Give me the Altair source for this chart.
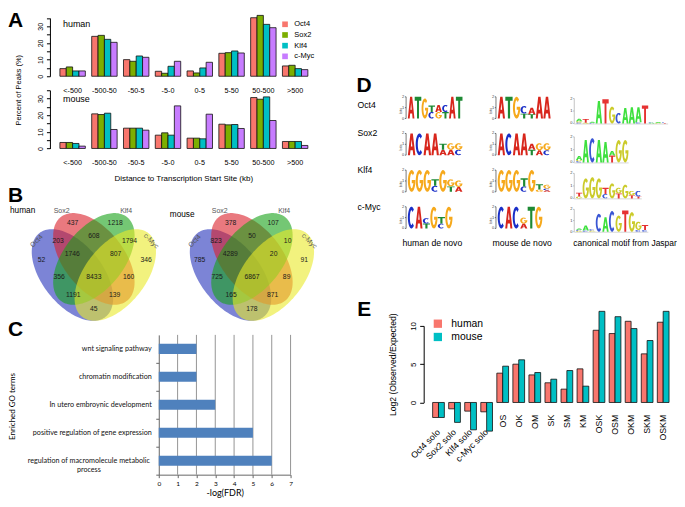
import altair as alt
import numpy as np
import pandas as pd

# ============================ DATA ============================
DIST_BINS = ["<-500", "-500-50", "-50-5", "-5-0", "0-5", "5-50", "50-500", ">500"]
FACTORS = ["Oct4", "Sox2", "Klf4", "c-Myc"]

HUMAN_OCT4 = [4.6, 24.0, 10.0, 3.0, 3.2, 13.8, 35.2, 6.2]
HUMAN_SOX2 = [5.6, 24.6, 9.0, 1.8, 2.0, 14.2, 36.6, 6.6]
HUMAN_KLF4 = [3.2, 22.2, 12.2, 6.0, 5.0, 15.2, 31.2, 4.6]
HUMAN_CMYC = [3.2, 20.4, 11.4, 9.0, 8.4, 14.0, 29.2, 4.0]
MOUSE_OCT4 = [3.6, 20.8, 12.2, 8.0, 6.2, 14.6, 30.6, 4.2]
MOUSE_SOX2 = [3.6, 20.4, 12.2, 9.4, 6.2, 14.2, 29.6, 4.2]
MOUSE_KLF4 = [3.0, 21.2, 12.2, 8.0, 5.8, 14.4, 31.0, 4.2]
MOUSE_CMYC = [1.4, 11.4, 11.0, 25.6, 20.6, 12.0, 16.8, 1.8]

VENN_REGIONS = ["O", "OS", "S", "SK", "K", "KM", "M", "OSK", "SKM", "OK", "OSKM", "SM", "OKM", "OSM", "OM"]
HUMAN_VENN = [52, 203, 437, 608, 1218, 1794, 346, 1746, 807, 356, 8433, 160, 1191, 139, 45]
MOUSE_VENN = [785, 823, 378, 50, 107, 10, 91, 4289, 20, 725, 6867, 89, 165, 871, 178]

GO_TERMS = ["wnt signaling pathway", "chromatin modification", "In utero embroynic development",
            "positive regulation of gene expression", "regulation of macromolecule metabolic\nprocess"]
GO_LOGFDR = [2, 2, 3, 5, 6]
GO_TICKS = [0, 1, 2, 3, 4, 5, 6, 7]

# motif columns, stacks bottom->top, letter + information (bits)
HUMAN_MOTIFS = ["A2 T2 G1.85 C.6/T.6 G.6/A.65 T.6/C.65 A2 T2",
                "A2 C2 A2 A2 A.5/T.55 A.5/G.6 C.5/G.6",
                "G2 G2 G2 C.55/T.6 G2 T.5/G.65 A.45/G.6",
                "C2 A2 T.45/C.5 G2 C.45/T.6 G2"]
MOUSE_MOTIFS = ["A2 T2 G2 T.45/C.7 T.4/A.6 A2 A2",
                "A2 C2 A2 A2 T.5/A.55 A.45/G.65 C.45/G.65",
                "G2 G2 G2 C.5/T.75 G2 G.2/T.5 A.15/C.15/G.35",
                "C2 A2 C2 A.45/G.55 T2 G2"]
JASPAR_MOTIFS = ["C.08/G.1/A.2 G.06/T.3 C.05/A.08 A1.8 T1.95 G1.35 C.85 A1.25 A1.3 C.1/A1.2 T1.45 A.05/C.05 G.05/A.06 T.04/C.04",
                 "C.1/G.1/A.3 A1.75 C1.9 A1.75 A1.6 T.55/A.35 G1.75 G1.75",
                 "G.15/T.3 G1.6 G1.7 G1.6 C.35/T.5 G1.2 T.4/G.45 G1.1 T.25/G.35 T.15/C.45",
                 "G.08/C.1/A.1 C.1/A.45 G.1/C.12 C1.6 A1.3 C1.85 G1.45 T1.9 G1.75 C.15/G.75 C.15/T.45"]

COMBOS = ["Oct4 solo", "Sox2 solo", "Klf4 solo", "c-Myc solo", "OS", "OK", "OM", "SK", "SM", "KM",
          "OSK", "OSM", "OKM", "SKM", "OSKM"]
COMBO_HUMAN = [-1.96, -0.83, -1.13, -1.22, 3.83, 5.0, 3.6, 2.57, 1.74, 4.39, 9.43, 9.0, 10.6, 6.35, 10.48]
COMBO_MOUSE = [-1.96, -2.6, -3.57, -3.74, 4.74, 5.57, 3.91, 3.04, 4.17, 2.13, 11.9, 11.2, 9.65, 8.09, 11.9]

SPECIES = ["human", "mouse"]

# ============================ LAYOUT / STYLE ============================
PAGE_W, PAGE_H, MARGIN = 685, 507, 8
W, H = PAGE_W - 2 * MARGIN, PAGE_H - 2 * MARGIN
FONT = "Liberation Sans"
CFONT = "Lato"
FACTOR_COLORS = ["#F8766D", "#7CAE00", "#00BFC4", "#C77CFF"]
SPECIES_COLORS = ["#F8766D", "#00BFC4"]
VENN_FILLS = ["#2532BB", "#DA202A", "#17A217", "#E9E928"]
DENOVO_PAL = {"A": "#D8261C", "C": "#1A2FC8", "G": "#F6A91C", "T": "#1E8A34"}
JASPAR_PAL = {"A": "#3EE03E", "C": "#3A56D4", "G": "#CBCB2A", "T": "#E63232"}
ONE = pd.DataFrame({"k": [0]})


def P(v):
    """reference-figure pixel -> plot pixel"""
    return v - MARGIN


def text_chart(text, x, y, size, **kw):
    return alt.Chart(ONE).mark_text(text=text, font=kw.pop("font", FONT), fontSize=size, **kw).encode(
        x=alt.value(P(x)), y=alt.value(P(y)))


# ---------------- Panel A ----------------
A_X_RANGE = [P(56.8), P(311.5)]


def dist_layer(series, zero_y, top_y, legend):
    df = pd.DataFrame([{"bin": b, "factor": f, "pct": v}
                       for f, vals in zip(FACTORS, series) for b, v in zip(DIST_BINS, vals)])
    xs = alt.Scale(domain=DIST_BINS, range=A_X_RANGE, paddingInner=0.2, paddingOuter=0.1)
    ys = alt.Scale(domain=[0, 35], range=[P(zero_y), P(top_y)], nice=False, zero=False)
    cs = alt.Scale(domain=FACTORS, range=FACTOR_COLORS)
    if legend:
        color = alt.Color("factor:N", scale=cs, sort=FACTORS, legend=alt.Legend(
            orient="none", legendX=P(281.7), legendY=P(20.2), title=None, symbolType="square",
            symbolSize=32, symbolStrokeWidth=0, labelFont=FONT, labelFontSize=7.5, labelOffset=5.5,
            rowPadding=1.7, padding=0, labelColor="black"))
    else:
        color = alt.Color("factor:N", scale=cs, sort=FACTORS, legend=None)
    return alt.Chart(df).mark_bar(stroke="#111", strokeWidth=0.8).encode(
        x=alt.X("bin:N", sort=DIST_BINS, scale=xs,
                axis=alt.Axis(orient="bottom", offset=P(zero_y) - H, domain=False, ticks=False, tickSize=0,
                              labelPadding=10.5, labelAngle=0, labelFontSize=7.2, title=None)),
        xOffset=alt.XOffset("factor:N", sort=FACTORS,
                            scale=alt.Scale(domain=FACTORS, paddingInner=0, paddingOuter=0)),
        y=alt.Y("pct:Q", scale=ys,
                axis=alt.Axis(orient="left", offset=-P(50), values=list(range(0, 36, 5)),
                              labelExpr="datum.value % 10 == 0 ? datum.label : ''", tickSize=3.5,
                              labelAngle=270, labelAlign="center", labelBaseline="bottom",
                              labelPadding=2.5, labelFontSize=7, title=None)),
        y2=alt.datum(0),
        color=color,
    )


panel_a = alt.layer(
    dist_layer([HUMAN_OCT4, HUMAN_SOX2, HUMAN_KLF4, HUMAN_CMYC], 76, 17.7, True),
    dist_layer([MOUSE_OCT4, MOUSE_SOX2, MOUSE_KLF4, MOUSE_CMYC], 148.3, 90, False),
    text_chart("human", 63, 26.7, 9, align="left", baseline="alphabetic"),
    text_chart("mouse", 63, 101.5, 9, align="left", baseline="alphabetic"),
    text_chart("Percent of Peaks (%)", 19.5, 90, 7.5, angle=270, align="center", baseline="middle"),
    text_chart("Distance to Transcription Start Site (kb)", 184, 179, 8, align="center", baseline="middle"),
).resolve_scale(x="independent", y="independent", color="independent", xOffset="independent")

# ---------------- Panel B (Venn) ----------------
ELL_A, ELL_B = 0.35, 0.20
VENN_ELLIPSES = [(0.35, 0.47, 135), (0.50, 0.57, 135), (0.50, 0.57, 45), (0.65, 0.47, 45)]
VENN_LABEL_POS = [(0.134, 0.565), (0.25, 0.683), (0.351, 0.793), (0.5, 0.71), (0.649, 0.793),
                  (0.75, 0.683), (0.866, 0.565), (0.348, 0.60), (0.652, 0.60), (0.257, 0.457),
                  (0.5, 0.457), (0.743, 0.457), (0.355, 0.344), (0.645, 0.344), (0.5, 0.26)]
VENN_SETNAME_POS = [(0.099, 0.681, 315), (0.274, 0.866, 0), (0.726, 0.866, 0), (0.901, 0.681, 45)]
VENN_DX = 158.3 / 143.0


def ellipse_band(cx, cy, deg, n=72):
    th = np.radians(deg)
    c, s = np.cos(th), np.sin(th)
    A = c * c / ELL_A ** 2 + s * s / ELL_B ** 2
    B = 2 * s * c * (1 / ELL_A ** 2 - 1 / ELL_B ** 2)
    C = s * s / ELL_A ** 2 + c * c / ELL_B ** 2
    ex = np.sqrt(ELL_A ** 2 * c * c + ELL_B ** 2 * s * s)
    dx = ex * np.cos(np.linspace(np.pi, 0, n))
    disc = np.clip(B * B * dx * dx - 4 * C * (A * dx * dx - 1), 0, None)
    lo = (-B * dx - np.sqrt(disc)) / (2 * C)
    hi = (-B * dx + np.sqrt(disc)) / (2 * C)
    return cx + dx, cy + lo, cy + hi


ell_rows, cnt_rows, name_rows = [], [], []
for si, (sp, counts) in enumerate(zip(SPECIES, [HUMAN_VENN, MOUSE_VENN])):
    off = si * VENN_DX
    for fi, (f, (cx, cy, deg)) in enumerate(zip(FACTORS, VENN_ELLIPSES)):
        xs_, lo_, hi_ = ellipse_band(cx + off, cy, deg)
        for x_, l_, h_ in zip(xs_, lo_, hi_):
            ell_rows.append({"key": f"{si}{fi}", "set": f, "x": x_, "lo": l_, "hi": h_})
    for reg, cnt, (ux, uy) in zip(VENN_REGIONS, counts, VENN_LABEL_POS):
        cnt_rows.append({"x": ux + off, "y": uy, "t": str(cnt)})
    for f, (ux, uy, ang) in zip(FACTORS, VENN_SETNAME_POS):
        name_rows.append({"x": ux + off, "y": uy, "t": f, "ang": ang})

VX = alt.Scale(domain=[0, 1], range=[P(22.5), P(165.5)], nice=False, zero=False)
VY = alt.Scale(domain=[0, 1], range=[P(350.7), P(189.7)], nice=False, zero=False)

venn_areas = alt.Chart(pd.DataFrame(ell_rows)).mark_area(opacity=0.6).encode(
    x=alt.X("x:Q", scale=VX, axis=None),
    y=alt.Y("lo:Q", scale=VY, axis=None, stack=None),
    y2="hi:Q",
    color=alt.Color("set:N", scale=alt.Scale(domain=FACTORS, range=VENN_FILLS), legend=None),
    detail="key:N",
)
venn_counts = alt.Chart(pd.DataFrame(cnt_rows)).mark_text(fontSize=6.8, color="#1a1a1a").encode(
    x=alt.X("x:Q", scale=VX, axis=None), y=alt.Y("y:Q", scale=VY, axis=None), text="t:N")
venn_names = alt.Chart(pd.DataFrame(name_rows)).mark_text(fontSize=7, color="#555555").encode(
    x=alt.X("x:Q", scale=VX, axis=None), y=alt.Y("y:Q", scale=VY, axis=None), text="t:N",
    angle=alt.Angle("ang:Q", scale=None))
panel_b = alt.layer(venn_areas, venn_counts, venn_names)

# ---------------- Panel C ----------------
# (other C layers keep default axes so that they merge with the bars' explicit axes)
c_df = pd.DataFrame({"term": GO_TERMS, "fdr": GO_LOGFDR, "idx": list(range(len(GO_TERMS)))})
CX = alt.Scale(domain=[0, 7], range=[P(159), P(291)], nice=False, zero=False)
CY = alt.Scale(domain=[0, 5], range=[P(335), P(475)], nice=False, zero=False)
C_XAXIS = alt.Axis(orient="bottom", offset=P(475) - H, values=GO_TICKS, tickSize=3,
                   labelFontSize=6.5, labelPadding=2.5, labelFlush=False, title="-log(FDR)",
                   titleFontSize=9, titlePadding=2, domainColor="#666", tickColor="#666",
                   labelFont=CFONT, titleFont=CFONT, grid=False)
C_YAXIS = alt.Axis(orient="left", offset=-P(159), values=[1, 2, 3, 4, 5], labels=False,
                   tickSize=3, domainColor="#666", tickColor="#666", title=None, grid=False)
c_grid = alt.Chart(pd.DataFrame({"v": GO_TICKS[1:]})).transform_calculate(
    top="0", bot="5").mark_rule(color="#7a7a7a", strokeWidth=0.8).encode(
    x=alt.X("v:Q", scale=CX, axis=C_XAXIS),
    y=alt.Y("top:Q", scale=CY, axis=C_YAXIS),
    y2="bot:Q")
c_bars = alt.Chart(c_df).transform_calculate(
    lo="datum.idx + 0.32", hi="datum.idx + 0.68", base="0").mark_rect(color="#4F81BD").encode(
    x=alt.X("fdr:Q", scale=CX, axis=C_XAXIS),
    x2="base:Q",
    y=alt.Y("lo:Q", scale=CY, axis=C_YAXIS),
    y2="hi:Q",
)
c_lab1 = alt.Chart(c_df[c_df.idx < 4]).transform_calculate(mid="datum.idx + 0.5", base="0").mark_text(
    align="right", baseline="middle", font=CFONT, fontSize=7.2, dx=-7, color="#111").encode(
    x=alt.X("base:Q", scale=CX, axis=C_XAXIS), y=alt.Y("mid:Q", scale=CY, axis=C_YAXIS), text="term:N")
c_lab2 = alt.Chart(c_df[c_df.idx == 4]).transform_calculate(mid="datum.idx + 0.5", base="0").mark_text(
    align="center", baseline="middle", font=CFONT, fontSize=7.2, dx=-70, lineBreak="\n", lineHeight=9,
    color="#111").encode(
    x=alt.X("base:Q", scale=CX, axis=C_XAXIS), y=alt.Y("mid:Q", scale=CY, axis=C_YAXIS), text="term:N")
panel_c = alt.layer(c_grid, c_bars, c_lab1, c_lab2)

# ---------------- Panel D (sequence logos) ----------------
GLYPH_T = [[(0, 0), (1, 0), (1, 0.18), (0.65, 0.18), (0.65, 1), (0.35, 1), (0.35, 0.18), (0, 0.18)]]
GLYPH_A = [[(0, 1), (0.34, 0), (0.66, 0), (1, 1), (0.72, 1), (0.65, 0.77), (0.35, 0.77), (0.28, 1)],
           [(0.40, 0.6), (0.60, 0.6), (0.5, 0.27)]]


def arc(rx, ry, a0, a1, n):
    t = np.radians(np.linspace(a0, a1, n))
    return [(0.5 + rx * np.cos(v), 0.5 - ry * np.sin(v)) for v in t]


GLYPH_C = [arc(0.5, 0.5, 48, 312, 30) + arc(0.22, 0.34, 312, 48, 30)]
GLYPH_G = [arc(0.5, 0.5, 48, 360, 30) + [(1.0, 0.46), (0.52, 0.46), (0.52, 0.6), (0.74, 0.6)]
           + arc(0.22, 0.34, 325, 48, 28)]
GLYPHS = {"A": GLYPH_A, "C": GLYPH_C, "G": GLYPH_G, "T": GLYPH_T}


def glyph_path(letter, w, h):
    parts = []
    for poly in GLYPHS[letter]:
        pts = [((u - 0.5) * w, (v - 0.5) * h) for u, v in poly]
        parts.append("M" + "L".join(f"{x:.2f},{y:.2f}" for x, y in pts) + "Z")
    return "".join(parts)


def parse_motif(s):
    return [[(it[0], float(it[1:])) for it in tok.split("/")] for tok in s.split()]


D_DENOVO_BASE = [48.3, 85.0, 121.7, 158.4]
D_DENOVO_PPB = 10.85
D_X0 = {"human": 63.3, "mouse": 153.3, "jaspar": 231.7}
D_WIDTH = {"human": [55, 55, 55, 45], "mouse": [53.3, 53.3, 53.3, 45]}
D_JASPAR_BASE = [53.3, 92.3, 128.3, 161.7]
D_JASPAR_PPB = [12.5, 12.8, 12.5, 11.2]
D_JASPAR_COLW = 6.6

let_rows, rule_rows, tiny_rows = [], [], []
for r in range(4):
    logos = [
        ("human", parse_motif(HUMAN_MOTIFS[r]), D_DENOVO_BASE[r], D_DENOVO_PPB, DENOVO_PAL),
        ("mouse", parse_motif(MOUSE_MOTIFS[r]), D_DENOVO_BASE[r], D_DENOVO_PPB, DENOVO_PAL),
        ("jaspar", parse_motif(JASPAR_MOTIFS[r]), D_JASPAR_BASE[r], D_JASPAR_PPB[r], JASPAR_PAL),
    ]
    for kind, motif, base, ppb, pal in logos:
        x0 = D_X0[kind]
        colw = D_JASPAR_COLW if kind == "jaspar" else D_WIDTH[kind][r] / len(motif)
        for i, stack in enumerate(motif):
            acc = 0.0
            for letter, h in stack:
                let_rows.append({"x": x0 + (i + 0.5) * colw, "y": base - (acc + h / 2) * ppb,
                                 "shape": glyph_path(letter, colw * 0.96, h * ppb), "col": pal[letter]})
                acc += h
        axc = "#222222" if kind != "jaspar" else "#9a9a9a"
        ax = x0 - 1.6
        rule_rows.append({"x": ax, "x2": ax, "y": base, "y2": base - 2 * ppb, "c": axc})
        for b in range(3):
            rule_rows.append({"x": ax - 1.2, "x2": ax, "y": base - b * ppb, "y2": base - b * ppb, "c": axc})
            tiny_rows.append({"x": ax - 1.8, "y": base - b * ppb, "t": str(b), "ang": 0})
        if kind == "jaspar":
            rule_rows.append({"x": ax, "x2": x0 + len(motif) * colw, "y": base + 0.5, "y2": base + 0.5,
                              "c": "#bbbbbb"})
        else:
            tiny_rows.append({"x": ax - 5.2, "y": base - ppb, "t": "bits", "ang": 270})

DXS = alt.Scale(domain=[0, 340], range=[P(345), P(685)], nice=False, zero=False)
DYS = alt.Scale(domain=[0, 180], range=[P(70), P(250)], nice=False, zero=False)
d_letters = alt.Chart(pd.DataFrame(let_rows)).mark_point(filled=True, opacity=1, strokeWidth=0).encode(
    x=alt.X("x:Q", scale=DXS, axis=None), y=alt.Y("y:Q", scale=DYS, axis=None),
    shape=alt.Shape("shape:N", scale=None), color=alt.Color("col:N", scale=None), size=alt.value(4))
d_rules = alt.Chart(pd.DataFrame(rule_rows)).mark_rule(strokeWidth=0.6).encode(
    x=alt.X("x:Q", scale=DXS, axis=None), x2="x2:Q", y=alt.Y("y:Q", scale=DYS, axis=None), y2="y2:Q",
    color=alt.Color("c:N", scale=None))
d_tiny = alt.Chart(pd.DataFrame(tiny_rows)).mark_text(fontSize=4, align="right", baseline="middle",
                                                      color="#444444").encode(
    x=alt.X("x:Q", scale=DXS, axis=None), y=alt.Y("y:Q", scale=DYS, axis=None), text="t:N",
    angle=alt.Angle("ang:Q", scale=None))
panel_d = alt.layer(d_rules, d_tiny, d_letters)

# ---------------- Panel E ----------------
e_df = pd.DataFrame([{"combo": c, "species": s, "val": v}
                     for s, vals in zip(SPECIES, [COMBO_HUMAN, COMBO_MOUSE]) for c, v in zip(COMBOS, vals)])
EX = alt.Scale(domain=COMBOS, range=[P(431.1), P(672.2)], paddingInner=0.27, paddingOuter=0.135)
EY = alt.Scale(domain=[0, 10], range=[P(402.7), P(326)], nice=False, zero=False)
e_bars = alt.Chart(e_df).mark_bar(stroke="#111", strokeWidth=0.8).encode(
    x=alt.X("combo:N", sort=COMBOS, scale=EX, axis=None),
    xOffset=alt.XOffset("species:N", sort=SPECIES, scale=alt.Scale(domain=SPECIES, paddingInner=0, paddingOuter=0)),
    y=alt.Y("val:Q", scale=EY,
            axis=alt.Axis(orient="left", offset=-P(424.3), values=[0, 5, 10], tickSize=4, labelAngle=270,
                          labelAlign="center", labelBaseline="bottom", labelPadding=2, labelFontSize=8,
                          title="Log2 (Observed/Expected)", titleFontSize=8.6, titlePadding=12)),
    y2=alt.datum(0),
    color=alt.Color("species:N", sort=SPECIES, scale=alt.Scale(domain=SPECIES, range=SPECIES_COLORS),
                    legend=alt.Legend(orient="none", legendX=P(433.3), legendY=P(318.6), title=None,
                                      symbolType="square", symbolSize=69, symbolStrokeWidth=0,
                                      labelFont=FONT, labelFontSize=10.4, labelOffset=8.3, rowPadding=2.3,
                                      padding=0, labelColor="black")),
)
e_lab_df = pd.DataFrame({"combo": COMBOS, "solo": [c.endswith(" solo") for c in COMBOS]})
e_solo = alt.Chart(e_lab_df).transform_filter("datum.solo").mark_text(
    angle=315, align="right", baseline="middle", fontSize=8.8).encode(
    x=alt.X("combo:N", sort=COMBOS, scale=EX, axis=None), y=alt.value(P(431)), text="combo:N")
e_pair = alt.Chart(e_lab_df).transform_filter("!datum.solo").mark_text(
    angle=270, align="right", baseline="middle", fontSize=8.8).encode(
    x=alt.X("combo:N", sort=COMBOS, scale=EX, axis=None), y=alt.value(P(415)), text="combo:N")
panel_e = alt.layer(e_bars, e_solo, e_pair)

# ---------------- free texts (panel letters, captions) ----------------
texts = [
    text_chart("A", 8, 9.5, 21, fontWeight="bold", align="left", baseline="top"),
    text_chart("B", 8, 184.5, 21, fontWeight="bold", align="left", baseline="top"),
    text_chart("C", 8, 319.5, 21, fontWeight="bold", align="left", baseline="top"),
    text_chart("D", 357, 75, 21, fontWeight="bold", align="left", baseline="top"),
    text_chart("E", 357.7, 299.5, 21, fontWeight="bold", align="left", baseline="top"),
    text_chart("human", 10, 213, 8.3, align="left", baseline="alphabetic"),
    text_chart("mouse", 170, 217, 8.3, align="left", baseline="alphabetic"),
    text_chart("Enriched GO terms", 13, 406.7, 8, font=CFONT, angle=270, align="center", baseline="middle"),
    text_chart("Oct4", 358, 105, 8.7, align="left", baseline="middle"),
    text_chart("Sox2", 358, 133.3, 8.7, align="left", baseline="middle"),
    text_chart("Klf4", 358, 170, 8.7, align="left", baseline="middle"),
    text_chart("c-Myc", 358, 206.7, 8.7, align="left", baseline="middle"),
    text_chart("human de novo", 433, 243.3, 8.7, align="center", baseline="middle"),
    text_chart("mouse de novo", 523, 243.3, 8.7, align="center", baseline="middle"),
    text_chart("canonical motif from Jaspar", 626, 243.3, 8.5, align="center", baseline="middle"),
]

chart = alt.layer(panel_a, panel_b, panel_c, panel_d, panel_e, *texts).resolve_scale(
    x="independent", y="independent", color="independent", xOffset="independent"
).properties(width=W, height=H, padding=0).configure_view(stroke=None).configure_axis(
    labelFont=FONT, titleFont=FONT, labelColor="black", titleColor="black", domainColor="black",
    tickColor="black", grid=False, titleFontWeight="normal"
).configure_text(font=FONT)

chart.save("out.html", embed_options={"renderer": "svg", "actions": False})
